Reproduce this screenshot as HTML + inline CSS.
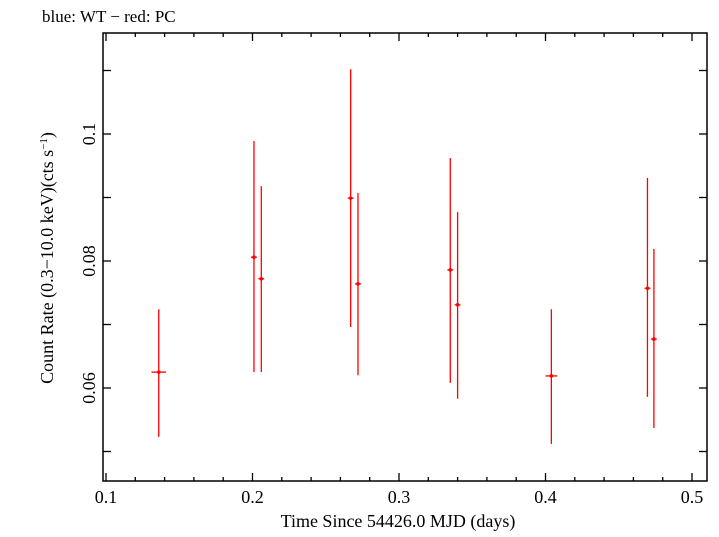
<!DOCTYPE html>
<html><head><meta charset="utf-8"><style>
body{margin:0;background:#fff;}
svg text{font-family:"Liberation Serif",serif;fill:#000;}
</style></head><body>
<svg id="chart" width="719" height="532" xmlns="http://www.w3.org/2000/svg">
<text x="42" y="22" font-size="17">blue: WT − red: PC</text>
<rect x="103" y="33" width="604" height="448" fill="none" stroke="#000" stroke-width="1.5"/>
<g id="axes"></g>
<g id="marks"></g>
<text x="398" y="527" font-size="18" text-anchor="middle">Time Since 54426.0 MJD (days)</text>
<text transform="translate(53,258) rotate(-90)" font-size="18" text-anchor="middle">Count Rate (0.3−10.0 keV)(cts s<tspan font-size="11" dy="-6">−1</tspan><tspan dy="6">)</tspan></text>
</svg>
<script>
const times=[0.136,0.201,0.206,0.267,0.272,0.335,0.340,0.404,0.4696,0.474];
const timeErr=[0.005,0.002,0.002,0.002,0.002,0.002,0.002,0.004,0.002,0.002];
const rates=[0.0625,0.0806,0.0772,0.0899,0.0764,0.0786,0.0731,0.0619,0.0757,0.0677];
const rateHi=[0.0724,0.0989,0.0918,0.1102,0.0907,0.0962,0.0877,0.0724,0.0931,0.0819];
const rateLo=[0.0523,0.0625,0.0625,0.0696,0.0620,0.0608,0.0583,0.0512,0.0586,0.0537];
const xTicks=[0.1,0.2,0.3,0.4,0.5];
const xTickLabels=["0.1","0.2","0.3","0.4","0.5"];
const yTicks=[0.06,0.08,0.1];
const yTickLabels=["0.06","0.08","0.1"];
const NS="http://www.w3.org/2000/svg";
const L=103,R=707,T=33,B=481;
function xs(v){return 106+(v-0.1)*1465;}
function ys(v){return 134+(0.1-v)*6350;}
function mk(tag,attrs,parent){const e=document.createElementNS(NS,tag);for(const k in attrs)e.setAttribute(k,attrs[k]);parent.appendChild(e);return e;}
const ax=document.getElementById('axes');
function line(x1,y1,x2,y2,p){return mk('line',{x1:x1,y1:y1,x2:x2,y2:y2,stroke:'#000','stroke-width':1.3},p);}
for(let k=4;k<=26;k++){const v=k*0.02;const x=xs(v);if(x<L||x>R)continue;const major=xTicks.some(t=>Math.abs(t-v)<1e-6);const len=major?8:4;
 const a=line(x,B,x,B-len,ax);
 const b=line(x,T,x,T+len,ax);}
xTicks.forEach((v,i)=>{const t=mk('text',{x:xs(v),y:503,'font-size':18,'text-anchor':'middle'},ax);t.textContent=xTickLabels[i];
 });
for(let k=4;k<=12;k++){const v=k*0.01;const y=ys(v);if(y<T||y>B)continue;const len=8;
 const a=line(L,y,L+len,y,ax);
 const b=line(R,y,R-len,y,ax);}
yTicks.forEach((v,i)=>{const t=mk('text',{transform:`translate(95,${ys(v)}) rotate(-90)`,'font-size':18,'text-anchor':'middle'},ax);t.textContent=yTickLabels[i];
 });
const mg=document.getElementById('marks');
times.forEach((t,i)=>{const g=mk('g',{},mg);
 
 mk('line',{x1:xs(t),y1:ys(rateHi[i]),x2:xs(t),y2:ys(rateLo[i]),stroke:'#f00','stroke-width':1.3},g);
 mk('line',{x1:xs(t-timeErr[i]),y1:ys(rates[i]),x2:xs(t+timeErr[i]),y2:ys(rates[i]),stroke:'#f00','stroke-width':1.3},g);
 mk('circle',{cx:xs(t),cy:ys(rates[i]),r:1.8,fill:'#f00'},g);});
</script>
</body></html>
